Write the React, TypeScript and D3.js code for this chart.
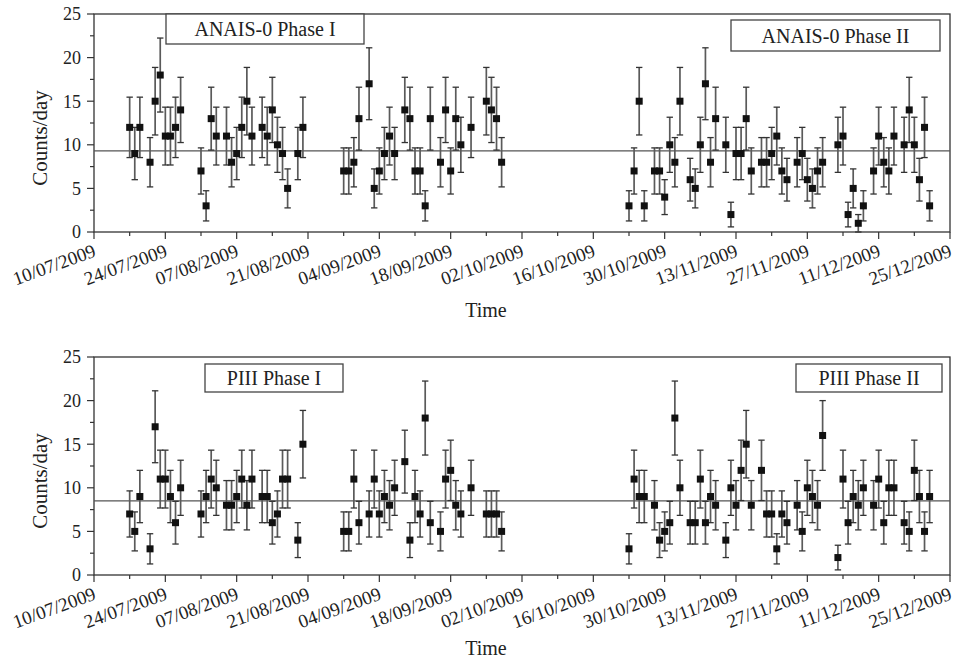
import React from "react";
import * as d3 from "d3";

// ---- Data ----
const anaisDates = [
  "07-17","07-18","07-19","07-21","07-22","07-23","07-24","07-25","07-26","07-27",
  "07-31","08-01","08-02","08-03","08-05","08-06","08-07","08-08","08-09","08-10",
  "08-12","08-13","08-14","08-15","08-16","08-17","08-19","08-20",
  "08-28","08-29","08-30","08-31","09-02","09-03","09-04","09-05","09-06","09-07",
  "09-09","09-10","09-11","09-12","09-13","09-14","09-16","09-17","09-18","09-19",
  "09-20","09-22","09-25","09-26","09-27","09-28",
  "10-23","10-24","10-25","10-26","10-28","10-29","10-30","10-31","11-01","11-02",
  "11-04","11-05","11-06","11-07","11-08","11-09","11-11","11-12","11-13","11-14",
  "11-15","11-16","11-18","11-19","11-20","11-21","11-22","11-23","11-25","11-26",
  "11-27","11-28","11-29","11-30","12-03","12-04","12-05","12-06","12-07","12-08",
  "12-10","12-11","12-12","12-13","12-14","12-16","12-17","12-18","12-19","12-20","12-21"
];
const anaisCounts = [
  12,9,12,8,15,18,11,11,12,14,
  7,3,13,11,11,8,9,12,15,11,
  12,11,14,10,9,5,9,12,
  7,7,8,13,17,5,7,9,11,9,
  14,13,7,7,3,13,8,14,7,13,
  10,12,15,14,13,8,
  3,7,15,3,7,7,4,10,8,15,
  6,5,10,17,8,13,10,2,9,9,
  13,7,8,8,9,11,7,6,8,9,
  6,5,7,8,10,11,2,5,1,3,
  7,11,8,7,11,10,14,10,6,12,3
];
const piiiDates = [
  "07-17","07-18","07-19","07-21","07-22","07-23","07-24","07-25","07-26","07-27",
  "07-31","08-01","08-02","08-03","08-05","08-06","08-07","08-08","08-09","08-10",
  "08-12","08-13","08-14","08-15","08-16","08-17","08-19","08-20",
  "08-28","08-29","08-30","08-31","09-02","09-03","09-04","09-05","09-06","09-07",
  "09-09","09-10","09-11","09-12","09-13","09-14","09-16","09-17","09-18","09-19",
  "09-20","09-22","09-25","09-26","09-27","09-28",
  "10-23","10-24","10-25","10-26","10-28","10-29","10-30","10-31","11-01","11-02",
  "11-04","11-05","11-06","11-07","11-08","11-09","11-11","11-12","11-13","11-14",
  "11-15","11-16","11-18","11-19","11-20","11-21","11-22","11-23","11-25","11-26",
  "11-27","11-28","11-29","11-30","12-03","12-04","12-05","12-06","12-07","12-08",
  "12-10","12-11","12-12","12-13","12-14","12-16","12-17","12-18","12-19","12-20","12-21"
];
const piiiCounts = [
  7,5,9,3,17,11,11,9,6,10,
  7,9,11,10,8,8,9,11,8,11,
  9,9,6,7,11,11,4,15,
  5,5,11,6,7,11,7,9,8,10,
  13,4,9,7,18,6,5,11,12,8,
  7,10,7,7,7,5,
  3,11,9,9,8,4,5,6,18,10,
  6,6,11,6,9,8,4,10,8,12,
  15,8,12,7,7,3,7,6,8,5,
  10,9,8,16,2,11,6,9,8,10,
  8,11,6,10,10,6,5,12,9,5,9
];
const anaisMean = 9.3;
const piiiMean = 8.5;
const yTicks = [0, 5, 10, 15, 20, 25];
const xStart = "2009-07-10";
const xEnd = "2009-12-25";
const panelTitles = [
  ["ANAIS-0 Phase I", "ANAIS-0 Phase II"],
  ["PIII Phase I", "PIII Phase II"],
];

const FONT = "Liberation Serif, Times New Roman, serif";
const parse = d3.utcParse("%Y-%m-%d");
const fmt = d3.utcFormat("%d/%m/%Y");

type Box = { x0: number; x1: number; y0: number; y1: number };

function Panel({
  top, dates, counts, mean, titles, boxes, timeY,
}: {
  top: number; dates: string[]; counts: number[]; mean: number; titles: string[]; boxes: Box[]; timeY: number;
}) {
  const start = parse(xStart)!;
  const end = parse(xEnd)!;
  const x = d3.scaleUtc().domain([start, end]).range([94, 950]);
  const y = d3.scaleLinear().domain([0, 25]).range([top + 218, top]);
  const axisY = y(0);
  const stop = d3.utcDay.offset(end, 1);
  const majorX = d3.utcDay.range(start, stop, 14);
  const minorX = d3.utcDay.range(start, stop, 7);
  const minorY = d3.range(0, 25.01, 2.5);
  const pts = dates.map((d, i) => ({ date: parse("2009-" + d)!, v: counts[i] }));
  const stroke = "#333";
  return (
    <g>
      {/* frame */}
      <rect x={94} y={top} width={856} height={218} fill="none" stroke={stroke} strokeWidth={1.3} />
      {/* mean line */}
      <line x1={94} x2={950} y1={y(mean)} y2={y(mean)} stroke="#555" strokeWidth={1.4} />
      {/* y ticks */}
      {minorY.map((t) => (
        <line key={"my" + t} x1={94} x2={t % 5 === 0 ? 87 : 90} y1={y(t)} y2={y(t)} stroke={stroke} strokeWidth={1.2} />
      ))}
      {yTicks.map((t) => (
        <text key={"yl" + t} x={81} y={y(t)} dy="0.35em" textAnchor="end" fontFamily={FONT} fontSize={18} fill="#222">{t}</text>
      ))}
      {/* x ticks */}
      {minorX.map((d, i) => (
        <line key={"mx" + i} x1={x(d)} x2={x(d)} y1={axisY} y2={axisY + (i % 2 === 0 ? 7 : 4)} stroke={stroke} strokeWidth={1.2} />
      ))}
      {majorX.map((d, i) => (
        <text key={"xl" + i} transform={`translate(${x(d) + 3},${axisY + 24}) rotate(-20)`} textAnchor="end"
          fontFamily={FONT} fontSize={19} fill="#222">{fmt(d)}</text>
      ))}
      {/* error bars */}
      {pts.map((p, i) => {
        const cx = x(p.date);
        const e = Math.sqrt(p.v);
        return (
          <g key={"e" + i} stroke="#5a5a5a" strokeWidth={1.7}>
            <line x1={cx} x2={cx} y1={y(p.v - e)} y2={y(p.v + e)} />
            <line x1={cx - 3.2} x2={cx + 3.2} y1={y(p.v - e)} y2={y(p.v - e)} stroke="#333" strokeWidth={1.3} />
            <line x1={cx - 3.2} x2={cx + 3.2} y1={y(p.v + e)} y2={y(p.v + e)} stroke="#333" strokeWidth={1.3} />
          </g>
        );
      })}
      {pts.map((p, i) => (
        <rect key={"p" + i} x={x(p.date) - 3.5} y={y(p.v) - 3.5} width={7} height={7} fill="#111" />
      ))}
      {/* axis titles */}
      <text transform={`translate(47,${top + 124}) rotate(-90)`} textAnchor="middle" fontFamily={FONT} fontSize={21} fill="#222">Counts/day</text>
      <text x={486} y={timeY} textAnchor="middle" fontFamily={FONT} fontSize={20} fill="#222">Time</text>
      {/* labels */}
      {boxes.map((b, i) => (
        <g key={"b" + i}>
          <rect x={b.x0} y={b.y0} width={b.x1 - b.x0} height={b.y1 - b.y0} fill="#fff" stroke="#444" strokeWidth={1.3} />
          <text x={(b.x0 + b.x1) / 2} y={(b.y0 + b.y1) / 2} dy="0.35em" textAnchor="middle" fontFamily={FONT} fontSize={20} fill="#222">{titles[i]}</text>
        </g>
      ))}
    </g>
  );
}

export default function App() {
  return (
    <svg width={955} height={661} style={{ position: "absolute", left: 0, top: 0, background: "#fff" }}>
      <Panel top={14} dates={anaisDates} counts={anaisCounts} mean={anaisMean} titles={panelTitles[0]} timeY={317}
        boxes={[{ x0: 166, x1: 364, y0: 14, y1: 44 }, { x0: 731, x1: 940, y0: 20, y1: 51 }]} />
      <Panel top={357} dates={piiiDates} counts={piiiCounts} mean={piiiMean} titles={panelTitles[1]} timeY={655}
        boxes={[{ x0: 205, x1: 343, y0: 364, y1: 392 }, { x0: 796, x1: 942, y0: 364, y1: 392 }]} />
    </svg>
  );
}
